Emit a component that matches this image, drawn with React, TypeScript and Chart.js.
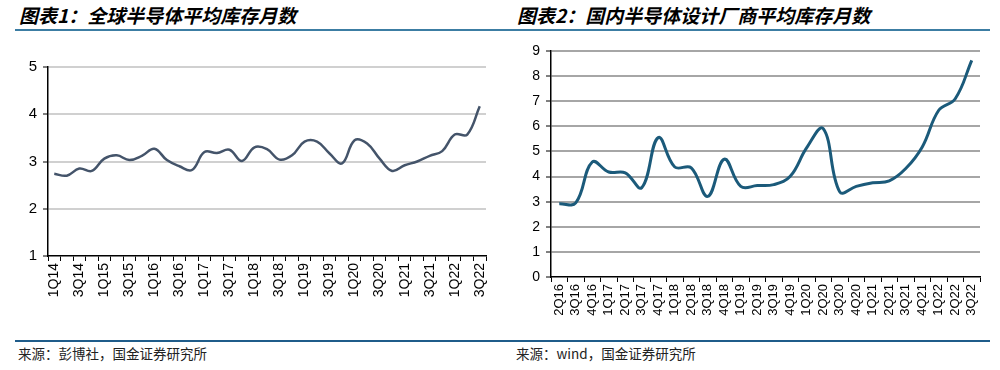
import React, { useEffect, useRef } from "react";
import { Chart, registerables } from "chart.js";

Chart.register(...registerables);

const globalCategories = [
  "1Q14","2Q14","3Q14","4Q14","1Q15","2Q15","3Q15","4Q15","1Q16","2Q16","3Q16","4Q16",
  "1Q17","2Q17","3Q17","4Q17","1Q18","2Q18","3Q18","4Q18","1Q19","2Q19","3Q19","4Q19",
  "1Q20","2Q20","3Q20","4Q20","1Q21","2Q21","3Q21","4Q21","1Q22","2Q22","3Q22",
];
const globalMonths = [
  2.74, 2.70, 2.85, 2.80, 3.06, 3.13, 3.03, 3.12, 3.27, 3.03, 2.90, 2.82,
  3.20, 3.18, 3.25, 3.01, 3.30, 3.26, 3.04, 3.13, 3.42, 3.42, 3.17, 2.96,
  3.45, 3.38, 3.06, 2.80, 2.92, 3.00, 3.12, 3.22, 3.57, 3.57, 4.17,
];
const globalTicks = [1, 2, 3, 4, 5];

const domesticCategories = [
  "2Q16","3Q16","4Q16","1Q17","2Q17","3Q17","4Q17","1Q18","2Q18","3Q18","4Q18","1Q19","2Q19",
  "3Q19","4Q19","1Q20","2Q20","3Q20","4Q20","1Q21","2Q21","3Q21","4Q21","1Q22","2Q22","3Q22",
];
const domesticMonths = [
  2.92, 2.95, 4.58, 4.18, 4.15, 3.56, 5.55, 4.38, 4.35, 3.21, 4.69, 3.61, 3.64,
  3.68, 4.01, 5.15, 5.91, 3.39, 3.61, 3.75, 3.83, 4.32, 5.18, 6.64, 7.10, 8.63,
];
const domesticTicks = [0, 1, 2, 3, 4, 5, 6, 7, 8, 9];

const FONT = "'Liberation Sans', Arial, sans-serif";

function LineChart(props: {
  labels: string[];
  values: number[];
  ticks: number[];
  color: string;
  gridColor: string;
  yWidth: number;
  xHeight: number;
  padTop: number;
  padRight: number;
  everyOther: boolean;
  lineWidth: number;
  xFont: number;
  yFont: number;
}) {
  const ref = useRef<HTMLCanvasElement | null>(null);
  useEffect(() => {
    if (!ref.current) return;
    const min = props.ticks[0];
    const max = props.ticks[props.ticks.length - 1];
    const chart = new Chart(ref.current, {
      type: "line",
      data: {
        labels: props.labels,
        datasets: [
          {
            data: props.values,
            borderColor: props.color,
            borderWidth: props.lineWidth,
            pointRadius: 0,
            tension: 0.4,
            fill: false,
          },
        ],
      },
      options: {
        animation: false,
        responsive: false,
        maintainAspectRatio: false,
        layout: { padding: { top: props.padTop, right: props.padRight, left: 0, bottom: 0 } },
        plugins: { legend: { display: false }, tooltip: { enabled: false } },
        scales: {
          x: {
            type: "category",
            offset: true,
            grid: {
              display: true,
              drawOnChartArea: false,
              offset: true,
              tickLength: 5,
              tickColor: "#000",
              tickWidth: 1,
            },
            border: { display: true, color: "#000", width: 1.5 },
            ticks: {
              autoSkip: false,
              minRotation: 90,
              maxRotation: 90,
              color: "#000",
              padding: 2,
              font: { family: FONT, size: props.xFont },
              callback: (_v: any, i: number) =>
                props.everyOther ? (i % 2 === 0 ? props.labels[i] : "") : props.labels[i],
            },
            afterFit: (s: any) => {
              s.height = props.xHeight;
            },
          },
          y: {
            min,
            max,
            grid: {
              color: (ctx: any) => (ctx.tick && ctx.tick.value === min ? "rgba(0,0,0,0)" : props.gridColor),
              lineWidth: 2,
              tickLength: 5,
              tickColor: "#000",
              tickWidth: 1,
            },
            border: { display: true, color: "#000", width: 1.5 },
            ticks: {
              stepSize: 1,
              color: "#000",
              padding: 6,
              font: { family: FONT, size: props.yFont },
            },
            afterBuildTicks: (s: any) => {
              s.ticks = props.ticks.map((v) => ({ value: v }));
            },
            afterFit: (s: any) => {
              s.width = props.yWidth;
            },
          },
        },
      },
    });
    return () => chart.destroy();
  }, []);
  return <canvas ref={ref} width={500} height={300} style={{ display: "block" }} />;
}

const titleStyle: React.CSSProperties = {
  position: "absolute",
  top: 3,
  fontFamily: "'Noto Sans CJK SC', sans-serif",
  fontWeight: 700,
  fontStyle: "italic",
  fontSize: 19,
  color: "#000",
  whiteSpace: "nowrap",
  lineHeight: "24px",
};

const sourceStyle: React.CSSProperties = {
  position: "absolute",
  top: 344,
  fontFamily: "'Noto Sans CJK SC', sans-serif",
  fontSize: 13.5,
  color: "#222",
  whiteSpace: "nowrap",
  lineHeight: "18px",
};

export default function App() {
  useEffect(() => {
    document.body.style.margin = "0";
  }, []);
  return (
    <div style={{ position: "relative", width: 1000, height: 370, background: "#fff", overflow: "hidden", margin: 0 }}>
      <div style={{ ...titleStyle, left: 19 }}>图表1：全球半导体平均库存月数</div>
      <div style={{ ...titleStyle, left: 517 }}>图表2：国内半导体设计厂商平均库存月数</div>
      <div style={{ position: "absolute", left: 15, top: 29, width: 975, height: 2, background: "#3C7DA3" }} />
      <div style={{ position: "absolute", left: 0, top: 35 }}>
        <LineChart
          labels={globalCategories}
          values={globalMonths}
          ticks={globalTicks}
          color="#44546A"
          gridColor="#D0D0D0"
          yWidth={48}
          xHeight={79}
          padTop={32}
          padRight={14}
          everyOther={true}
          lineWidth={2.5}
          xFont={14}
          yFont={15}
        />
      </div>
      <div style={{ position: "absolute", left: 500, top: 35 }}>
        <LineChart
          labels={domesticCategories}
          values={domesticMonths}
          ticks={domesticTicks}
          color="#1B5A7A"
          gridColor="#A6A6A6"
          yWidth={51}
          xHeight={58}
          padTop={16}
          padRight={20}
          everyOther={false}
          lineWidth={3}
          xFont={13}
          yFont={14}
        />
      </div>
      <div style={{ position: "absolute", left: 15, top: 340, width: 975, height: 1.5, background: "#1F5C8A" }} />
      <div style={{ ...sourceStyle, left: 18 }}>来源：彭博社，国金证券研究所</div>
      <div style={{ ...sourceStyle, left: 516 }}>来源：wind，国金证券研究所</div>
    </div>
  );
}
